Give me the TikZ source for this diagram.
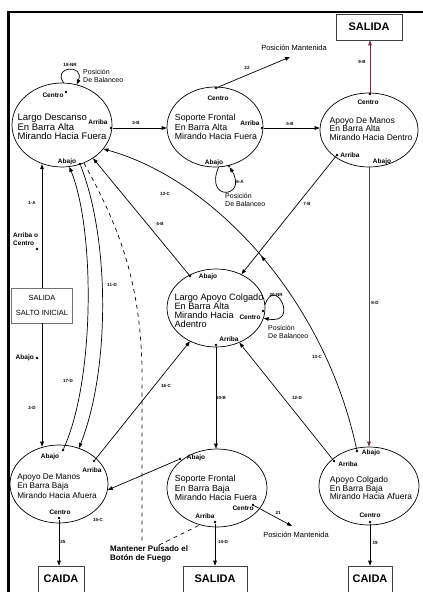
\documentclass[tikz,border=0pt]{standalone}
\usepackage{fontspec}
\setmainfont{Liberation Sans}
\usetikzlibrary{shapes.geometric,arrows.meta,positioning,decorations.markings}
\definecolor{granate}{RGB}{115,45,80}
\tikzset{
  estado/.style={draw, ellipse, line width=0.7pt, inner sep=0pt},
  texto/.style={align=left, inner sep=0pt, font=\fontsize{9}{9.4}\selectfont},
  punto/.style={circle, fill, inner sep=0pt, minimum size=2.6pt},
  etq/.style={inner sep=0pt, font=\bfseries\fontsize{6.5}{6.5}\selectfont},
  num/.style={inner sep=0pt, font=\bfseries\fontsize{4.5}{4.5}\selectfont},
  nota/.style={align=left, inner sep=0pt, font=\fontsize{7}{8.5}\selectfont},
  caja/.style={draw=black!75, line width=0.6pt, inner sep=0pt, minimum height=26pt, font=\bfseries\fontsize{11}{11}\selectfont},
  flecha/.style={line width=0.7pt, -{Triangle[length=5pt,width=3.6pt]}},
  guion/.style={line width=0.7pt, dash pattern=on 4pt off 4pt},
}

\begin{document}
\begin{tikzpicture}[x=1pt, y=-1pt]
	\useasboundingbox (0,0) rectangle (423,592);
	\draw[line width=2.2pt] (8.5,592) -- (8.5,12) -- (423,12);
	% estados
	\node[estado, minimum width=100pt, minimum height=84pt] (ld) at (62,125) {};
	\node[estado, minimum width=96pt, minimum height=80pt] (sf) at (215,127) {};
	\node[estado, minimum width=98pt, minimum height=74pt] (am) at (369,130) {};
	\node[estado, minimum width=98pt, minimum height=78pt] (lac) at (216,308) {};
	\node[estado, minimum width=98pt, minimum height=78pt] (amb) at (59,484) {};
	\node[estado, minimum width=100pt, minimum height=78pt] (sfb) at (217,488) {};
	\node[estado, minimum width=100pt, minimum height=78pt] (acb) at (369,486) {};
	\node[texto, font=\fontsize{9.5}{9.5}\selectfont] (ld-t) at (62,127) {Largo Descanso\\En Barra Alta\\Mirando Hacia Fuera};
	\node[texto, font=\fontsize{8.8}{9.5}\selectfont] (sf-t) at (216,127) {Soporte Frontal\\En Barra Alta\\Mirando Hacia Fuera};
	\node[texto, font=\fontsize{8.5}{8.2}\selectfont] (am-t) at (371,129) {Apoyo De Manos\\En Barra Alta\\Mirando Hacia Dentro};
	\node[texto, font=\fontsize{9.2}{9}\selectfont] (lac-t) at (219,311) {Largo Apoyo Colgado\\En Barra Alta\\Mirando Hacia\\Adentro};
	\node[texto, font=\fontsize{8.2}{9.5}\selectfont] (amb-t) at (57,486) {Apoyo De Manos\\En Barra Baja\\Mirando Hacia Afuera};
	\node[texto, font=\fontsize{8.8}{9.5}\selectfont] (sfb-t) at (216,488) {Soporte Frontal\\En Barra Baja\\Mirando Hacia Fuera};
	\node[texto, font=\fontsize{8.5}{8.5}\selectfont] (acb-t) at (371,488) {Apoyo Colgado\\En Barra Baja\\Mirando Hacia Afuera};
	% salidas
	\node[caja, minimum width=66pt] (salida1) at (369,27) {SALIDA};
	\node[caja, minimum width=61pt, minimum height=35pt, align=center, draw=black!55, font=\fontsize{7.5}{15}\selectfont] (salto) at (42,305.5) {SALIDA\\SALTO INICIAL};
	\node[caja, minimum width=46pt] (caida1) at (61,579) {CAIDA};
	\node[caja, minimum width=64pt] (salida2) at (215,579) {SALIDA};
	\node[caja, minimum width=44pt] (caida2) at (370,579) {CAIDA};
	% puntos de agarre
	\node[punto] (ld-c) at (66,92) {};
	\node[punto] (ld-ar) at (111,128) {};
	\node[punto] (ld-ab) at (80,164) {};
	\node[punto] (sf-c) at (216,88) {};
	\node[punto] (sf-ar) at (262,128) {};
	\node[punto] (sf-ab) at (229,166) {};
	\node[punto] (am-c) at (370,94) {};
	\node[punto] (am-ar) at (337,155) {};
	\node[punto] (lac-ab) at (190,276) {};
	\node[punto] (lac-c) at (263,311) {};
	\node[punto] (lac-ar) at (216,345) {};
	\node[punto] (amb-ab) at (63,450) {};
	\node[punto] (amb-ar) at (94,461) {};
	\node[punto] (amb-c) at (59,518) {};
	\node[punto] (sfb-ab) at (180,459) {};
	\node[punto] (sfb-ar) at (215,522) {};
	\node[punto] (sfb-c) at (253,505) {};
	\node[punto] (acb-ab) at (357,451) {};
	\node[punto] (acb-ar) at (334,461) {};
	\node[punto] (acb-c) at (370,522) {};
	\node[punto] (sal-ar) at (37,249) {};
	\node[punto] (sal-ab) at (37,358) {};
	% nombres de los puntos
	\node[etq] (ld-c-l) at (53,95.5) {Centro};
	\node[etq] (ld-ar-l) at (98,122) {Arriba};
	\node[etq] (ld-ab-l) at (67,162) {Abajo};
	\node[etq] (sf-c-l) at (218,98) {Centro};
	\node[etq] (sf-ar-l) at (250,123) {Arriba};
	\node[etq] (sf-ab-l) at (214,163) {Abajo};
	\node[etq] (am-c-l) at (368,102) {Centro};
	\node[etq] (am-ar-l) at (350,155) {Arriba};
	\node[etq] (am-ab-l) at (382,162) {Abajo};
	\node[etq] (lac-ab-l) at (208,277) {Abajo};
	\node[etq] (lac-c-l) at (250,317) {Centro};
	\node[etq] (lac-ar-l) at (229,339) {Arriba};
	\node[etq] (amb-ab-l) at (50,457) {Abajo};
	\node[etq] (amb-ar-l) at (92,470) {Arriba};
	\node[etq] (amb-c-l) at (60,512) {Centro};
	\node[etq] (sfb-ab-l) at (196,458) {Abajo};
	\node[etq] (sfb-ar-l) at (205,516) {Arriba};
	\node[etq] (sfb-c-l) at (243,508) {Centro};
	\node[etq] (acb-ab-l) at (371,453) {Abajo};
	\node[etq] (acb-ar-l) at (348,464) {Arriba};
	\node[etq] (acb-c-l) at (370,515) {Centro};
	\node[etq, align=left, anchor=north west, font=\bfseries\fontsize{6.5}{8}\selectfont] (sal-ar-l) at (13,233) {Arriba o\\Centro};
	\node[etq, left=1.5pt of sal-ab] (sal-ab-l) {Abajo};
	% notas
	\node[nota, anchor=west] (bal1) at (83,76) {Posición\\De Balanceo};
	\node[nota, anchor=west] (bal2) at (225,200) {Posición\\De Balanceo};
	\node[nota, anchor=west] (bal3) at (268,332) {Posición\\De Balanceo};
	\node[nota, font=\fontsize{7.5}{7.5}\selectfont] (pm1) at (294,48) {Posición Mantenida};
	\node[nota, font=\fontsize{7.5}{7.5}\selectfont] (pm2) at (296,535) {Posición Mantenida};
	\node[nota, anchor=north west, font=\bfseries\fontsize{8}{9}\selectfont] (mantener) at (110,545) {Mantener Pulsado el\\Botón de Fuego};
	\coordinate (pm1-in) at (290,57);
	\coordinate (pm2-in) at (292,526);
	\coordinate (fin-guion) at (142,541);
	% transiciones
	\draw[flecha] (ld-ar) -- (ld-ar -| sf.west);
	\draw[flecha] (sf-ar) -- (sf-ar -| am.west);
	\draw[flecha, color=granate] (am-c) -- (am-c |- salida1.south);
	\draw[flecha, color=granate] (am.south) -- (am.south |- acb.north);
	\draw[flecha] (lac-ar) -- (lac-ar |- sfb.north);
	\draw[flecha] (sfb-ar) -- (sfb-ar |- salida2.north);
	\draw[flecha] (amb-c) -- (amb-c |- caida1.north);
	\draw[flecha] (acb-c) -- (acb-c |- caida2.north);
	\draw[flecha] (salto.north) -- (salto.north |- ld.-116);
	\draw[flecha] (salto.south) -- (salto.south |- amb.113);
	\draw[flecha] (amb-ab) .. controls (95,380) and (95,230) .. (ld.-80);
	\draw[flecha] (ld-ab) .. controls (110,240) and (110,370) .. (amb.61);
	\draw[flecha] (lac-ab) -- (ld.-47);
	\draw[flecha] (am-ar) -- (lac.53);
	\draw[flecha] (amb-ar) -- (lac.-128);
	\draw[flecha] (acb-ar) -- (lac.-56);
	\draw[flecha] (sfb-ab) -- (amb.-7);
	\draw[flecha, postaction={decorate}, decoration={markings, mark=at position 0.53 with {\arrow{Triangle[length=5pt,width=3.6pt]}}}] (acb-ab) .. controls (325,300) and (215,180) .. (ld.-30);
	\draw[flecha] (sf-c) -- (pm1-in);
	\draw[flecha] (sfb-c) -- (pm2-in);
	% lazos de balanceo
	\draw[flecha] (ld.88) .. controls (52,66) and (85,64) .. (ld.70);
	\draw[flecha] (sf.-85) .. controls (204,202) and (248,198) .. (sf-ab);
	\draw[flecha] (lac.4) .. controls (275,275) and (300,325) .. (lac.-12);
	% boton de fuego
	\draw[guion] (ld.-60) .. controls (118,225) and (144,285) .. (142,390) -- (fin-guion);
	\draw[guion] (mantener.40) -- (sfb.-115);
	% numeros de transicion
	\node[num] (n18) at (70,65) {18-NR};
	\node[num] (n3) at (136,123) {3-B};
	\node[num] (n22) at (247,68) {22};
	\node[num] (n5) at (290,124) {5-B};
	\node[num] (n9) at (362,62) {9-B};
	\node[num] (n6) at (240,182) {6-A};
	\node[num] (n1) at (32,203) {1-A};
	\node[num] (n13) at (165,194) {13-C};
	\node[num] (n4) at (160,224) {4-B};
	\node[num] (n7) at (307,204) {7-B};
	\node[num] (n11) at (112,285) {11-D};
	\node[num] (n20) at (276,295) {20-NR};
	\node[num] (n8) at (375,303) {8-D};
	\node[num] (n13b) at (317,357) {13-C};
	\node[num] (n17) at (68,381) {17-D};
	\node[num] (n2) at (32,408) {2-D};
	\node[num] (n16) at (166,386) {16-C};
	\node[num] (n10) at (221,398) {10-B};
	\node[num] (n12) at (297,398) {12-D};
	\node[num] (n15) at (98,520) {15-C};
	\node[num] (n25) at (63,542) {25};
	\node[num] (n14) at (223,542) {14-D};
	\node[num] (n21) at (278,513) {21};
	\node[num] (n19) at (375,543) {19};
\end{tikzpicture}
\end{document}
